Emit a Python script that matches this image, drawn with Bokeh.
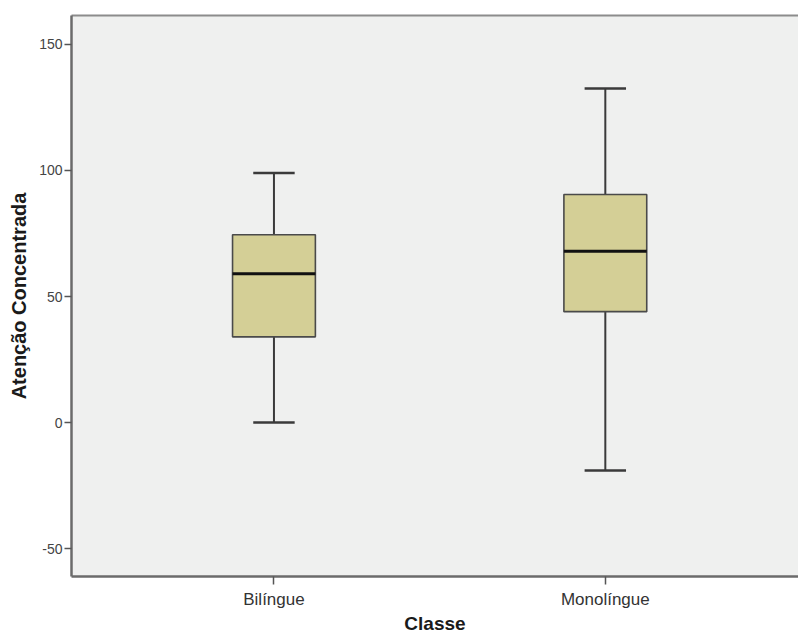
from bokeh.plotting import figure
from bokeh.models import FixedTicker, LinearAxis, Range1d
from bokeh.embed import file_html
from bokeh.resources import INLINE

# ---- data ----
categories = ["Bilíngue", "Monolíngue"]
whisker_low = [0, -19]
q1 = [34, 44]
median = [59, 68]
q3 = [74.5, 90.5]
whisker_high = [99, 132.5]
y_ticks = [-50, 0, 50, 100, 150]

# ---- layout ----
W, H = 798, 636
BORDER_L, BORDER_T, BORDER_B = 71, 15, 60
Y0, Y1 = -61.1, 161.5
X0, X1 = 0.389, 2.583

xs = [i + 1 for i in range(len(categories))]

p = figure(width=W, height=H, output_backend="svg", toolbar_location=None,
           x_range=Range1d(X0, X1), y_range=Range1d(Y0, Y1),
           min_border_left=BORDER_L, min_border_right=0,
           min_border_top=BORDER_T, min_border_bottom=BORDER_B)
p.background_fill_color = "#EFF0EF"
p.border_fill_color = "white"
p.outline_line_color = None
p.grid.visible = False

BOX_W = 0.25
CAP_W = 0.125
line_col = "#3a3a3a"

# whiskers
p.segment(x0=xs, y0=q3, x1=xs, y1=whisker_high, line_color=line_col, line_width=2)
p.segment(x0=xs, y0=q1, x1=xs, y1=whisker_low, line_color=line_col, line_width=2)
# caps
p.segment(x0=[x - CAP_W / 2 for x in xs], y0=whisker_high,
          x1=[x + CAP_W / 2 for x in xs], y1=whisker_high, line_color=line_col, line_width=2.5)
p.segment(x0=[x - CAP_W / 2 for x in xs], y0=whisker_low,
          x1=[x + CAP_W / 2 for x in xs], y1=whisker_low, line_color=line_col, line_width=2.5)
# boxes
p.vbar(x=xs, width=BOX_W, bottom=q1, top=q3, fill_color="#D4CF96",
       line_color="#4a4a4a", line_width=1.6)
# medians
p.segment(x0=[x - BOX_W / 2 for x in xs], y0=median,
          x1=[x + BOX_W / 2 for x in xs], y1=median, line_color="#111111", line_width=3)

# y axis
ya = p.yaxis[0]
ya.ticker = FixedTicker(ticks=y_ticks)
ya.major_label_overrides = {t: str(t) for t in y_ticks}
ya.minor_tick_line_color = None
ya.major_tick_out = 7
ya.major_tick_in = 0
ya.major_tick_line_color = "#555555"
ya.major_tick_line_width = 1.5
ya.axis_line_color = "#6b6b6b"
ya.axis_line_width = 2.5
ya.major_label_text_font = "Liberation Sans"
ya.major_label_text_font_size = "14px"
ya.major_label_text_color = "#444444"
ya.major_label_standoff = 2
ya.axis_label = "Atenção Concentrada"
ya.axis_label_text_font = "Liberation Sans"
ya.axis_label_text_font_style = "bold"
ya.axis_label_text_font_size = "20px"
ya.axis_label_text_color = "#1a1a1a"
ya.axis_label_standoff = 6

# x axis
xa = p.xaxis[0]
xa.ticker = FixedTicker(ticks=xs)
xa.major_label_overrides = {x: lab for x, lab in zip(xs, categories)}
xa.minor_tick_line_color = None
xa.major_tick_out = 8
xa.major_tick_in = 0
xa.major_tick_line_color = "#555555"
xa.major_tick_line_width = 1.5
xa.axis_line_color = "#6b6b6b"
xa.axis_line_width = 2.5
xa.major_label_text_font = "Liberation Sans"
xa.major_label_text_font_size = "17px"
xa.major_label_text_color = "#333333"
xa.major_label_standoff = 5
xa.axis_label = "Classe"
xa.axis_label_text_font = "Liberation Sans"
xa.axis_label_text_font_style = "bold"
xa.axis_label_text_font_size = "19px"
xa.axis_label_text_color = "#1a1a1a"
xa.axis_label_standoff = 1

# top border
top = LinearAxis(ticker=FixedTicker(ticks=[]), major_tick_out=0, major_tick_in=0,
                 minor_tick_out=0, minor_tick_in=0, major_label_text_font_size="0px",
                 axis_line_color="#8c8c8c", axis_line_width=2)
p.add_layout(top, "above")

open("out.html", "w").write(file_html(p, INLINE))
